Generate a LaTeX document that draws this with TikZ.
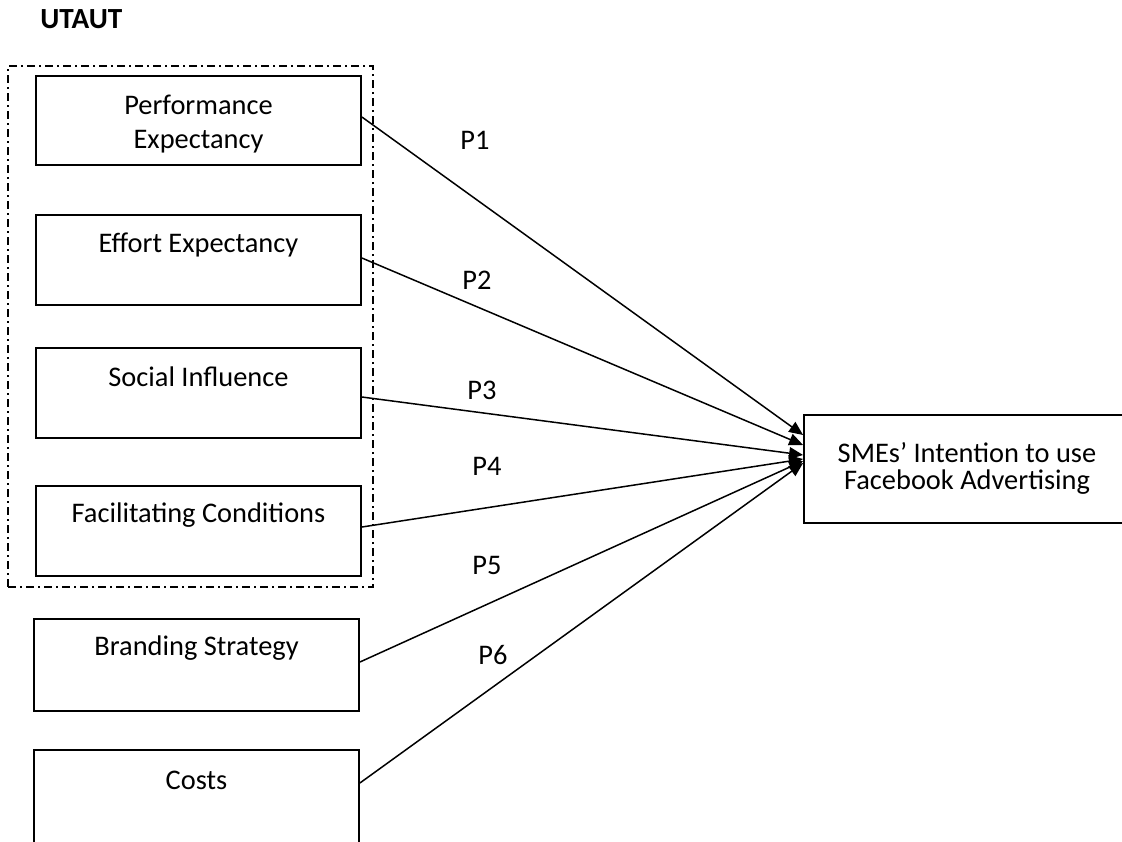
\documentclass[tikz,border=0pt]{standalone}
\usepackage{fontspec}
\setmainfont{Carlito}
\usetikzlibrary{arrows.meta,calc}
\tikzset{
  factor/.style={draw, line width=0.9pt, inner sep=0pt, minimum width=162.5pt},
  lbl/.style={inner sep=0pt, font=\fontsize{14.2}{17}\selectfont},
  group/.style={draw, line width=0.7pt, dash pattern=on 4pt off 2pt on 1pt off 2pt, inner sep=0pt},
  link/.style={line width=0.75pt, -{Triangle[length=7pt, width=6pt]}}
}
\begin{document}
\begin{tikzpicture}[x=0.5pt, y=-0.5pt]
\clip (0,0) rectangle (1122,841);
\fill[white] (0,0) rectangle (1122,841);

% title
\node[lbl, font=\fontsize{14.6}{17}\selectfont\bfseries, anchor=west] (title) at (40,19) {UTAUT};

% UTAUT group frame
\node[group, minimum width=182.5pt, minimum height=260.5pt] (grp) at (190.5,326.5) {};

% factor boxes
\node[factor, minimum height=44.5pt] (b1) at (198.5,120.5) {};
\node[factor, minimum height=45pt] (b2) at (198.5,260) {};
\node[factor, minimum height=45pt] (b3) at (198.5,393) {};
\node[factor, minimum height=45pt] (b4) at (198.5,531) {};
\node[factor, minimum height=46pt] (b5) at (196.5,665) {};
\node[factor, minimum height=55pt] (b6) at (196.5,805) {};

% outcome box
\node[factor, minimum width=163pt, minimum height=54pt] (t) at (967,469) {};

% box texts
\node[lbl] (b1a) at (198.5,105) {Performance};
\node[lbl] (b1b) at (198.5,142) {Expectancy};
\node[lbl] (b2a) at (198.5,245) {Effort Expectancy};
\node[lbl] (b3a) at (198.5,377) {Social Influence};
\node[lbl] (b4a) at (198.5,515) {Facilitating Conditions};
\node[lbl] (b5a) at (196.5,648) {Branding Strategy};
\node[lbl] (b6a) at (196.5,780) {Costs};
\node[lbl] (ta) at (967,453) {SMEs’ Intention to use};
\node[lbl] (tb) at (967,482) {Facebook Advertising};

% links into the outcome
\draw[link] ($(b1.east)+(0,-3.5)$) -- ($(t.west)+(0,-34)$);
\draw[link] ($(b2.east)+(0,-2)$) -- ($(t.west)+(0,-24)$);
\draw[link] ($(b3.east)+(0,4)$) -- ($(t.west)+(0,-14)$);
\draw[link] ($(b4.east)+(0,-4)$) -- ($(t.west)+(0,-10)$);
\draw[link] ($(b5.east)+(0,-3)$) -- ($(t.west)+(0,-8)$);
\draw[link] ($(b6.east)+(0,-22)$) -- ($(t.west)+(0,-6)$);

% path labels
\node[lbl] (p1) at (475,140) {P1};
\node[lbl] (p2) at (477,280) {P2};
\node[lbl] (p3) at (482,390) {P3};
\node[lbl] (p4) at (487,466) {P4};
\node[lbl] (p5) at (487,565) {P5};
\node[lbl] (p6) at (493,655) {P6};
\end{tikzpicture}
\end{document}
